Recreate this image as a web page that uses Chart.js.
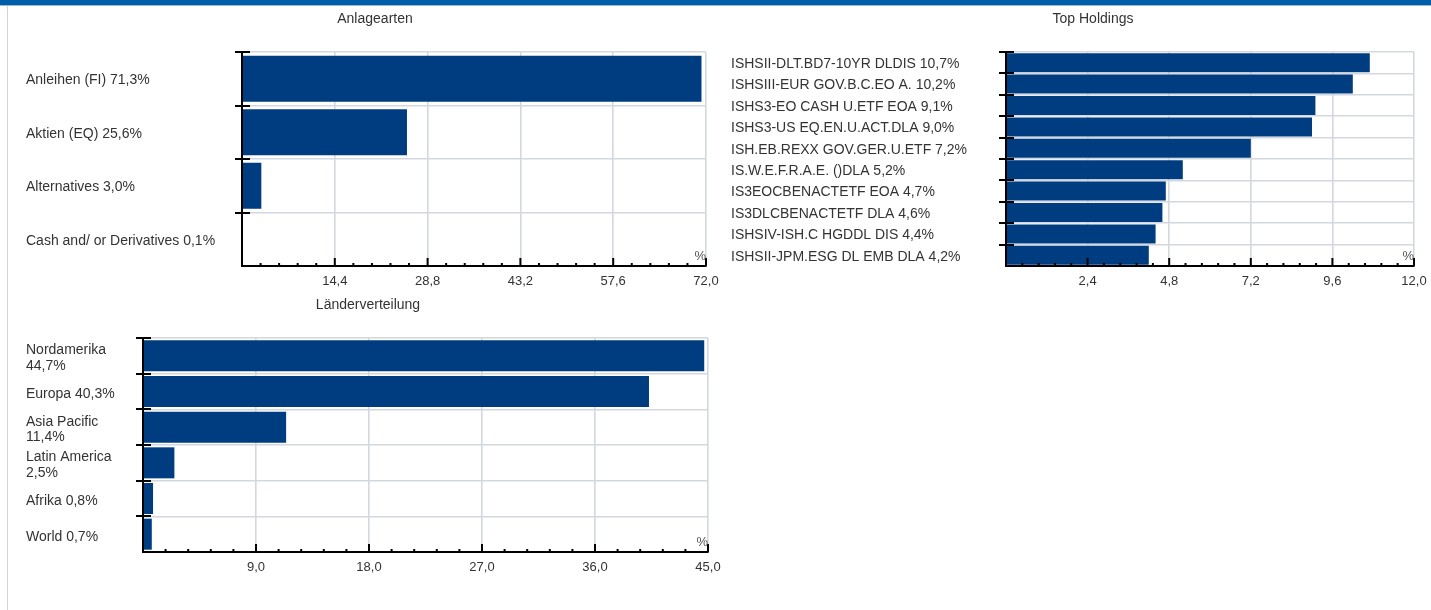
<!DOCTYPE html>
<html>
<head>
<meta charset="utf-8">
<script src="https://cdn.jsdelivr.net/npm/chart.js@4.4.1/dist/chart.umd.min.js"></script>
<style>
html, body { margin: 0; padding: 0; background: #fff; overflow: hidden; width: 1431px; height: 610px; }
#band { position: absolute; left: 0; top: 0; width: 1431px; height: 5px; background: #005ea8; border-bottom: 1px solid #9ab8d8; }
#frame { position: absolute; left: 7px; top: 6px; width: 1px; height: 604px; background: #d3d3d3; }
.box { position: absolute; }
</style>
</head>
<body>
<div id="band"></div>
<div id="frame"></div>
<div class="box" style="left:8px;top:6px;width:734px;height:290px"><canvas id="c1"></canvas></div>
<div class="box" style="left:723px;top:6px;width:740px;height:290px"><canvas id="c2"></canvas></div>
<div class="box" style="left:8px;top:292px;width:720px;height:290px"><canvas id="c3"></canvas></div>
<script>
// data
const anlageNames = ['Anleihen (FI)', 'Aktien (EQ)', 'Alternatives', 'Cash and/ or Derivatives'];
const anlageValues = [71.3, 25.6, 3.0, 0.1];
const anlageTicks = [0, 14.4, 28.8, 43.2, 57.6, 72.0];

const holdingNames = [
    'ISHSII-DLT.BD7-10YR DLDIS', 'ISHSIII-EUR GOV.B.C.EO A.', 'ISHS3-EO CASH U.ETF EOA',
    'ISHS3-US EQ.EN.U.ACT.DLA', 'ISH.EB.REXX GOV.GER.U.ETF', 'IS.W.E.F.R.A.E. ()DLA',
    'IS3EOCBENACTETF EOA', 'IS3DLCBENACTETF DLA', 'ISHSIV-ISH.C HGDDL DIS', 'ISHSII-JPM.ESG DL EMB DLA'
];
const holdingValues = [10.7, 10.2, 9.1, 9.0, 7.2, 5.2, 4.7, 4.6, 4.4, 4.2];
const holdingTicks = [0, 2.4, 4.8, 7.2, 9.6, 12.0];

const landNames = ['Nordamerika', 'Europa', 'Asia Pacific', 'Latin America', 'Afrika', 'World'];
const landValues = [44.7, 40.3, 11.4, 2.5, 0.8, 0.7];
const landTicks = [0, 9.0, 18.0, 27.0, 36.0, 45.0];

const FONT = "'Liberation Sans', Arial, sans-serif";
const BAR = '#003d80';
const GRID = '#d3d7e0';

const fmt = v => v.toFixed(1).replace('.', ',');

const measure = document.createElement('canvas').getContext('2d');
measure.font = '14px ' + FONT;

function makeLabels(names, values, wrapAt) {
    return names.map((n, i) => {
        const txt = n + ' ' + fmt(values[i]) + '%';
        if (wrapAt && measure.measureText(txt).width > wrapAt) {
            return [n, fmt(values[i]) + '%'];
        }
        return txt;
    });
}

// title, tick marks, minor ticks and the % sign
const decor = {
    id: 'decor',
    afterDraw(chart) {
        const ctx = chart.ctx;
        const x = chart.scales.x;
        const y = chart.scales.y;
        const area = chart.chartArea;
        const o = chart.options;
        const tickVals = o.tickVals;
        ctx.save();
        ctx.strokeStyle = '#000';
        ctx.lineWidth = 2;
        ctx.beginPath();
        for (let i = 0; i < tickVals.length; i++) {
            const px = x.getPixelForValue(tickVals[i]);
            if (i > 0) {
                ctx.moveTo(px, area.bottom);
                ctx.lineTo(px, area.bottom - 8);
            }
            if (i < tickVals.length - 1) {
                const step = (tickVals[i + 1] - tickVals[i]) / 5;
                for (let k = 1; k < 5; k++) {
                    const mx = x.getPixelForValue(tickVals[i] + step * k);
                    ctx.moveTo(mx, area.bottom);
                    ctx.lineTo(mx, area.bottom - 3);
                }
            }
        }
        const n = chart.data.labels.length;
        const half = (y.getPixelForValue(1) - y.getPixelForValue(0)) / 2;
        for (let i = 0; i < n; i++) {
            const py = Math.round(y.getPixelForValue(i) - half);
            ctx.moveTo(area.left - 7, py);
            ctx.lineTo(area.left + 8, py);
        }
        ctx.stroke();

        ctx.fillStyle = '#555';
        ctx.font = '13px ' + FONT;
        ctx.textAlign = 'right';
        ctx.textBaseline = 'middle';
        ctx.fillText('%', area.right, area.bottom - 10);

        ctx.fillStyle = '#333';
        ctx.font = '14px ' + FONT;
        ctx.textAlign = 'center';
        ctx.fillText(o.titleText, o.titleX, 13);
        ctx.restore();
    }
};

function makeChart(id, title, labels, values, tickVals, cfg) {
    return new Chart(document.getElementById(id), {
        type: 'bar',
        data: {
            labels: labels,
            datasets: [{
                data: values,
                backgroundColor: BAR,
                barPercentage: cfg.barPct,
                categoryPercentage: 1
            }]
        },
        options: {
            tickVals: tickVals,
            titleText: title,
            titleX: cfg.titleX,
            indexAxis: 'y',
            responsive: true,
            maintainAspectRatio: false,
            animation: false,
            layout: { padding: { left: cfg.padLeft, right: cfg.padRight, top: 46, bottom: 0 } },
            plugins: {
                legend: { display: false },
                tooltip: { enabled: false },
                title: { display: false }
            },
            scales: {
                x: {
                    type: 'linear',
                    min: 0,
                    max: tickVals[tickVals.length - 1],
                    afterBuildTicks: s => { s.ticks = tickVals.map(v => ({ value: v })); },
                    afterFit: s => { s.height = 30; s.paddingLeft = 0; s.paddingRight = 0; },
                    ticks: {
                        callback: v => v === 0 ? '' : fmt(v),
                        color: '#333',
                        font: { family: FONT, size: 13 },
                        padding: 8,
                        maxRotation: 0,
                        autoSkip: false
                    },
                    grid: { color: GRID, lineWidth: 1.6, drawTicks: false },
                    border: { color: '#000', width: 2, z: 1 }
                },
                y: {
                    type: 'category',
                    afterFit: s => { s.width = cfg.yWidth; s.paddingTop = 0; s.paddingBottom = 0; },
                    ticks: {
                        crossAlign: 'far',
                        color: '#333',
                        font: { family: FONT, size: 14, lineHeight: 1.1 },
                        padding: 0,
                        labelOffset: cfg.labelOff,
                        autoSkip: false
                    },
                    grid: { offset: true, color: GRID, lineWidth: 1.6, drawTicks: false },
                    border: { color: '#000', width: 2, z: 1 }
                }
            }
        },
        plugins: [decor]
    });
}

makeChart('c1', 'Anlagearten', makeLabels(anlageNames, anlageValues), anlageValues, anlageTicks,
    { padLeft: 18, padRight: 36, yWidth: 216, barPct: 0.86, titleX: 367, labelOff: 1.5 });
makeChart('c2', 'Top Holdings', makeLabels(holdingNames, holdingValues), holdingValues, holdingTicks,
    { padLeft: 8, padRight: 49, yWidth: 275, barPct: 0.89, titleX: 370, labelOff: 1.5 });
makeChart('c3', 'Länderverteilung', makeLabels(landNames, landValues, 112), landValues, landTicks,
    { padLeft: 18, padRight: 20, yWidth: 117, barPct: 0.87, titleX: 360, labelOff: 2.5 });
</script>
</body>
</html>
